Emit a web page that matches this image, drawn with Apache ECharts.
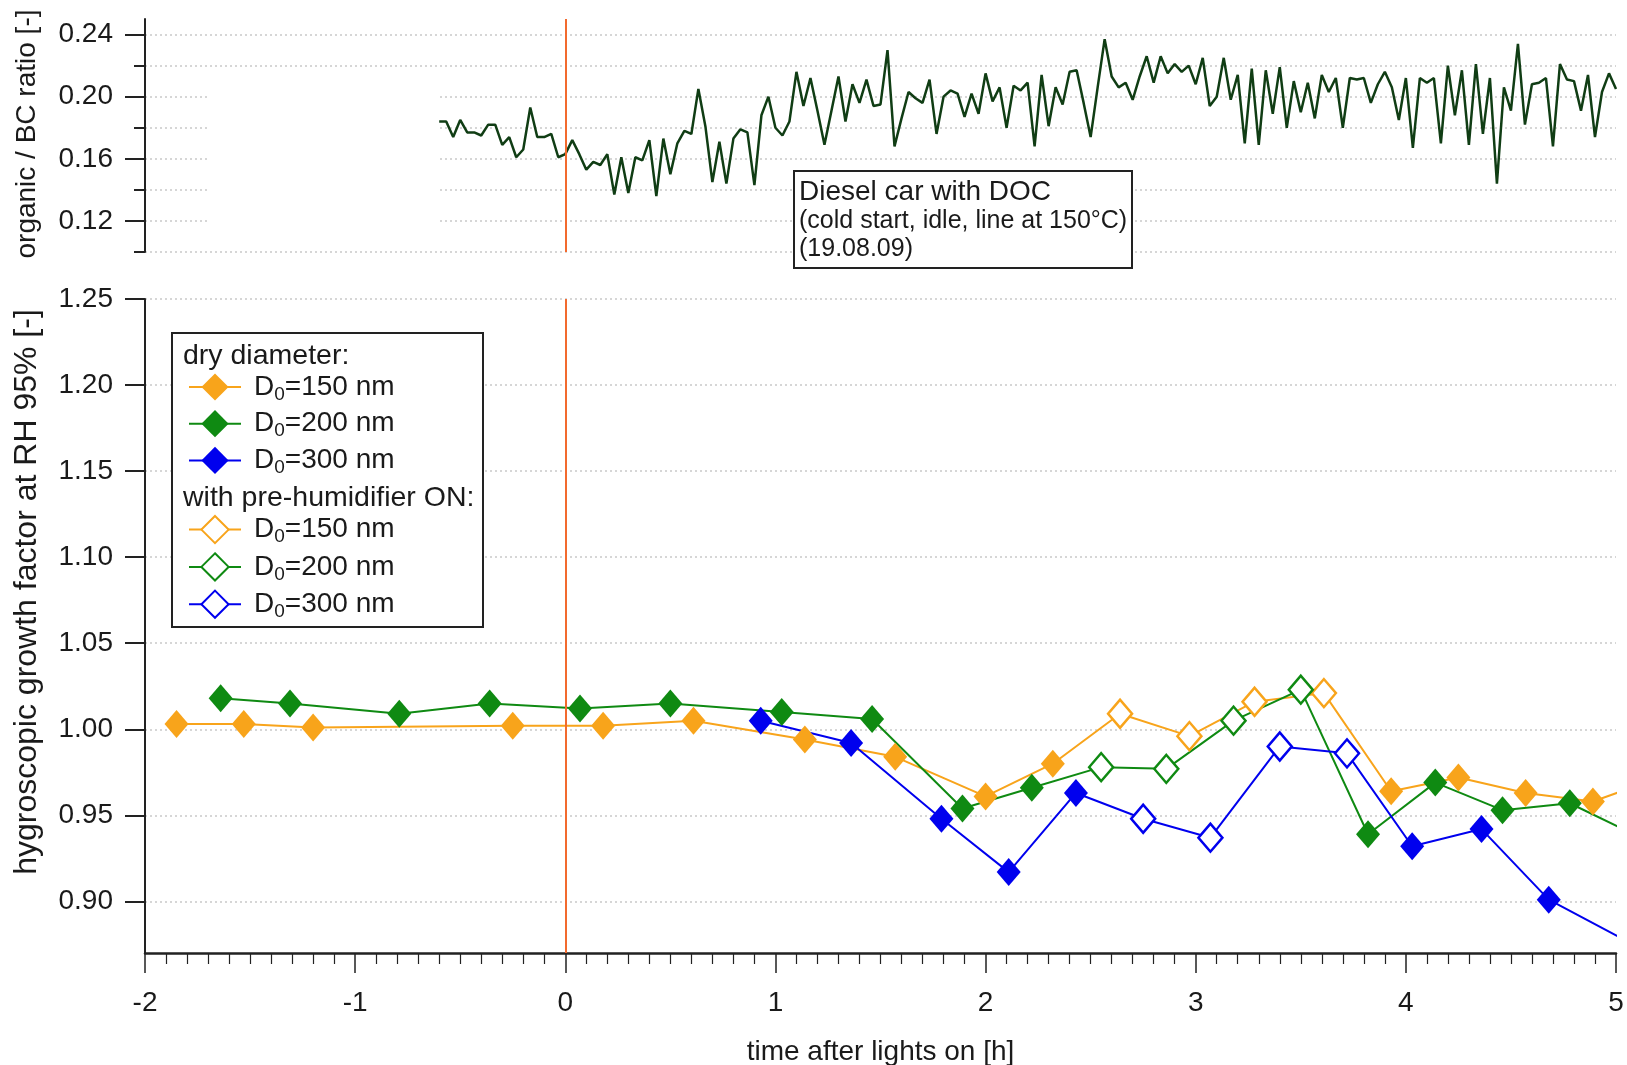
<!DOCTYPE html>
<html lang="en">
<head>
<meta charset="UTF-8">
<title>Hygroscopic growth factor after lights on</title>
<script src="https://cdn.jsdelivr.net/npm/echarts@6/dist/echarts.min.js"></script>
<style>
  html, body { margin: 0; padding: 0; background: #fff; }
  #main { width: 1627px; height: 1065px; }
</style>
</head>
<body>
<div id="main"></div>
<script type="text/javascript">
// organic / BC ratio, one reading every 2 min from 0.6 h before lights on
var ratioStart = -0.6;
var ratioStep = 1 / 30;
var ratio = [
  0.184, 0.184, 0.174, 0.185, 0.177, 0.177, 0.175, 0.182, 0.182, 0.169,
  0.174, 0.161, 0.166, 0.193, 0.174, 0.174, 0.176, 0.161, 0.163, 0.172,
  0.163, 0.153, 0.158, 0.156, 0.163, 0.137, 0.161, 0.138, 0.161, 0.159,
  0.172, 0.136, 0.173, 0.150, 0.170, 0.178, 0.176, 0.205, 0.181, 0.145,
  0.171, 0.144,
  0.173, 0.179, 0.177, 0.143, 0.188, 0.200, 0.180, 0.175, 0.184, 0.216,
  0.194, 0.212, 0.191, 0.169, 0.191, 0.213, 0.184, 0.208, 0.196, 0.211,
  0.194, 0.195, 0.230, 0.168, 0.186, 0.203, 0.199, 0.196, 0.211, 0.176,
  0.200, 0.204, 0.202, 0.187, 0.202, 0.189, 0.215, 0.197, 0.206, 0.180,
  0.207, 0.204,
  0.209, 0.168, 0.214, 0.181, 0.206, 0.195, 0.216, 0.217, 0.196, 0.174,
  0.206, 0.237, 0.213, 0.206, 0.209, 0.198, 0.213, 0.226, 0.209, 0.226,
  0.215, 0.221, 0.216, 0.220, 0.208, 0.225, 0.194, 0.200, 0.225, 0.198,
  0.214, 0.170, 0.218, 0.169, 0.217, 0.189, 0.219, 0.180, 0.210, 0.190,
  0.209, 0.186,
  0.214, 0.203, 0.212, 0.180, 0.212, 0.211, 0.212, 0.196, 0.208, 0.216,
  0.206, 0.185, 0.212, 0.167, 0.212, 0.209, 0.212, 0.170, 0.220, 0.188,
  0.217, 0.169, 0.221, 0.176, 0.212, 0.144, 0.206, 0.191, 0.234, 0.182,
  0.208, 0.209, 0.212, 0.168, 0.221, 0.211, 0.210, 0.191, 0.214, 0.174,
  0.203, 0.215, 0.205
];

// growth factor at RH 95%, [time after lights on (h), gf]
var dry150 = [[-1.85, 1.003], [-1.53, 1.003], [-1.20, 1.001], [-0.25, 1.002], [0.18, 1.002],
  [0.61, 1.005], [1.14, 0.994], [1.57, 0.984], [2.00, 0.961], [2.32, 0.980],
  [3.93, 0.964], [4.25, 0.972], [4.57, 0.963], [4.89, 0.958], [5.21, 0.972]];
var dry200 = [[-1.64, 1.018], [-1.31, 1.015], [-0.79, 1.009], [-0.36, 1.015], [0.07, 1.012],
  [0.50, 1.015], [1.03, 1.010], [1.46, 1.006], [1.89, 0.954], [2.22, 0.966],
  [3.82, 0.939], [4.14, 0.969], [4.46, 0.953], [4.78, 0.957], [5.10, 0.938]];
var dry300 = [[0.93, 1.005], [1.36, 0.992], [1.79, 0.948], [2.11, 0.917], [2.43, 0.963],
  [4.03, 0.932], [4.36, 0.942], [4.68, 0.901], [5.02, 0.879]];
// with pre-humidifier ON
var hum150 = [[2.64, 1.009], [2.97, 0.996], [3.28, 1.016], [3.61, 1.021]];
var hum200 = [[2.55, 0.978], [2.86, 0.977], [3.18, 1.005], [3.50, 1.023]];
var hum300 = [[2.75, 0.948], [3.07, 0.937], [3.40, 0.990], [3.72, 0.986]];

var topTicks = [0.10, 0.12, 0.14, 0.16, 0.18, 0.20, 0.22, 0.24];
var topLabels = [0.12, 0.16, 0.20, 0.24];
var bottomTicks = [0.90, 0.95, 1.00, 1.05, 1.10, 1.15, 1.20, 1.25];

var FONT = "'Liberation Sans', Arial, sans-serif";
var INK = '#1a1a1a';
var dotted = { color: '#c9c9c9', type: [2, 3], width: 1.5 };

var groups = [
  { size: '150', color: '#f8a41b', dry: dry150, hum: hum150 },
  { size: '200', color: '#0f8a12', dry: dry200, hum: hum200 },
  { size: '300', color: '#0000ee', dry: dry300, hum: hum300 }
];

var zeroLine = {
  silent: true,
  symbol: ['none', 'none'],
  label: { show: false },
  lineStyle: { color: '#f26a2e', width: 2, type: 'solid' },
  data: [{ xAxis: 0 }]
};

var series = [{
  type: 'line',
  xAxisIndex: 0,
  yAxisIndex: 0,
  data: ratio.map(function (v, i) { return [ratioStart + i * ratioStep, v]; }),
  symbol: 'none',
  lineStyle: { color: '#103d14', width: 2.5 },
  z: 3,
  markLine: zeroLine
}];

groups.forEach(function (g, k) {
  var path = g.dry.concat(g.hum).sort(function (a, b) { return a[0] - b[0]; });
  var line = {
    type: 'line',
    xAxisIndex: 1,
    yAxisIndex: 2,
    data: path,
    symbol: 'none',
    silent: true,
    lineStyle: { color: g.color, width: 2 },
    z: 2
  };
  if (k === 0) line.markLine = zeroLine;
  series.push(line);
  series.push({
    name: 'dry' + g.size,
    type: 'line',
    xAxisIndex: 1,
    yAxisIndex: 2,
    data: g.dry,
    symbol: 'diamond',
    symbolSize: [24, 28],
    showAllSymbol: true,
    lineStyle: { color: g.color, width: 2, opacity: 0 },
    itemStyle: { color: g.color },
    z: 3 + k
  });
  series.push({
    name: 'hum' + g.size,
    type: 'line',
    xAxisIndex: 1,
    yAxisIndex: 2,
    data: g.hum,
    symbol: 'diamond',
    symbolSize: [24, 28],
    showAllSymbol: true,
    lineStyle: { color: g.color, width: 2, opacity: 0 },
    itemStyle: { color: '#ffffff', borderColor: g.color, borderWidth: 2.5 },
    z: 3 + k
  });
});

function legendText(name) {
  return '{a|D}{b|0}{a|=' + name.slice(3) + ' nm}';
}
var legendRich = {
  a: { fontFamily: FONT, fontSize: 28, color: INK, lineHeight: 34 },
  b: { fontFamily: FONT, fontSize: 19, color: INK, lineHeight: 16, verticalAlign: 'bottom' }
};
function legendBlock(names, top) {
  return {
    data: names.map(function (n) { return { name: n, lineStyle: { width: 2, opacity: 1 } }; }),
    orient: 'vertical',
    left: 188,
    top: top,
    padding: 0,
    itemWidth: 52,
    itemHeight: 34,
    itemGap: 5.7,
    selectedMode: false,
    formatter: legendText,
    textStyle: { padding: [0, 0, 0, 8], rich: legendRich }
  };
}

function label(text, x, y, size, extra) {
  var el = {
    type: 'text', z: 6, x: x, y: y,
    style: {
      text: text, font: size + 'px ' + FONT, fill: INK,
      textAlign: 'left', textVerticalAlign: 'middle', align: 'left', verticalAlign: 'middle'
    }
  };
  if (extra) {
    el.rotation = extra.rotation;
    el.style.textAlign = el.style.align = 'center';
  }
  return el;
}

var option = {
  animation: false,
  backgroundColor: '#ffffff',
  textStyle: { fontFamily: FONT },
  grid: [
    { left: 145, top: 19, width: 1471, height: 233, outerBoundsMode: 'none', containLabel: false },
    { left: 145, top: 299, width: 1471, height: 654, outerBoundsMode: 'none', containLabel: false }
  ],
  xAxis: [
    { gridIndex: 0, type: 'value', min: -2, max: 5, show: false },
    {
      gridIndex: 1, type: 'value', min: -2, max: 5, interval: 1,
      axisLine: { onZero: false, lineStyle: { color: '#222', width: 2.5 } },
      axisTick: { length: 20, lineStyle: { color: '#222', width: 1.5 } },
      minorTick: { show: true, splitNumber: 10, length: 11, lineStyle: { color: '#222', width: 1.2 } },
      axisLabel: { fontFamily: FONT, fontSize: 28, color: INK, margin: 36 },
      splitLine: { show: false },
      name: 'time after lights on [h]',
      nameLocation: 'middle',
      nameGap: 85,
      nameTextStyle: { fontFamily: FONT, fontSize: 28, color: INK }
    }
  ],
  yAxis: [
    {
      gridIndex: 0, type: 'value', min: 0.10, max: 0.25, interval: 0.02, position: 'left',
      axisLine: { show: true, onZero: false, lineStyle: { color: '#222', width: 2 } },
      axisTick: { show: true, length: 11, customValues: topTicks, lineStyle: { color: '#222', width: 2 } },
      axisLabel: {
        customValues: topLabels, fontFamily: FONT, fontSize: 28, color: INK, margin: 32,
        formatter: function (v) { return v.toFixed(2); }
      },
      splitLine: { show: true, lineStyle: dotted }
    },
    {
      gridIndex: 0, type: 'value', min: 0.10, max: 0.25, position: 'left',
      axisLine: { show: false, onZero: false },
      axisTick: { show: true, length: 20, customValues: topLabels, lineStyle: { color: '#222', width: 2 } },
      axisLabel: { show: false },
      splitLine: { show: false }
    },
    {
      gridIndex: 1, type: 'value', min: 0.87, max: 1.25, position: 'left',
      axisLine: { show: true, onZero: false, lineStyle: { color: '#222', width: 2 } },
      axisTick: { show: true, length: 20, customValues: bottomTicks, lineStyle: { color: '#222', width: 2 } },
      axisLabel: {
        customValues: bottomTicks, fontFamily: FONT, fontSize: 28, color: INK, margin: 32,
        formatter: function (v) { return v.toFixed(2); }
      },
      splitLine: { show: true, lineStyle: dotted }
    }
  ],
  legend: [
    legendBlock(['dry150', 'dry200', 'dry300'], 373),
    legendBlock(['hum150', 'hum200', 'hum300'], 515)
  ],
  graphic: [
    // blank patch in the upper panel grid
    { type: 'rect', z: 1, shape: { x: 209, y: 76, width: 229, height: 164 }, style: { fill: '#ffffff' } },
    // legend frame and headings
    { type: 'rect', z: 3, shape: { x: 172, y: 333, width: 311, height: 294 },
      style: { fill: '#ffffff', stroke: '#222', lineWidth: 2 } },
    label('dry diameter:', 183, 356, 28.5),
    label('with pre-humidifier ON:', 183, 498, 28.5),
    // annotation box
    { type: 'rect', z: 5, shape: { x: 794, y: 171, width: 338, height: 97 },
      style: { fill: '#ffffff', stroke: '#222', lineWidth: 2 } },
    label('Diesel car with DOC', 799, 192, 28),
    label('(cold start, idle, line at 150°C)', 799, 221, 25),
    label('(19.08.09)', 799, 249, 25),
    // axis titles
    label('organic / BC ratio [-]', 27, 134, 28, { rotation: Math.PI / 2 }),
    label('hygroscopic growth factor at RH 95% [-]', 27, 592, 32, { rotation: Math.PI / 2 })
  ],
  series: series
};

var myChart = echarts.init(document.getElementById('main'));
myChart.setOption(option);
</script>
</body>
</html>
